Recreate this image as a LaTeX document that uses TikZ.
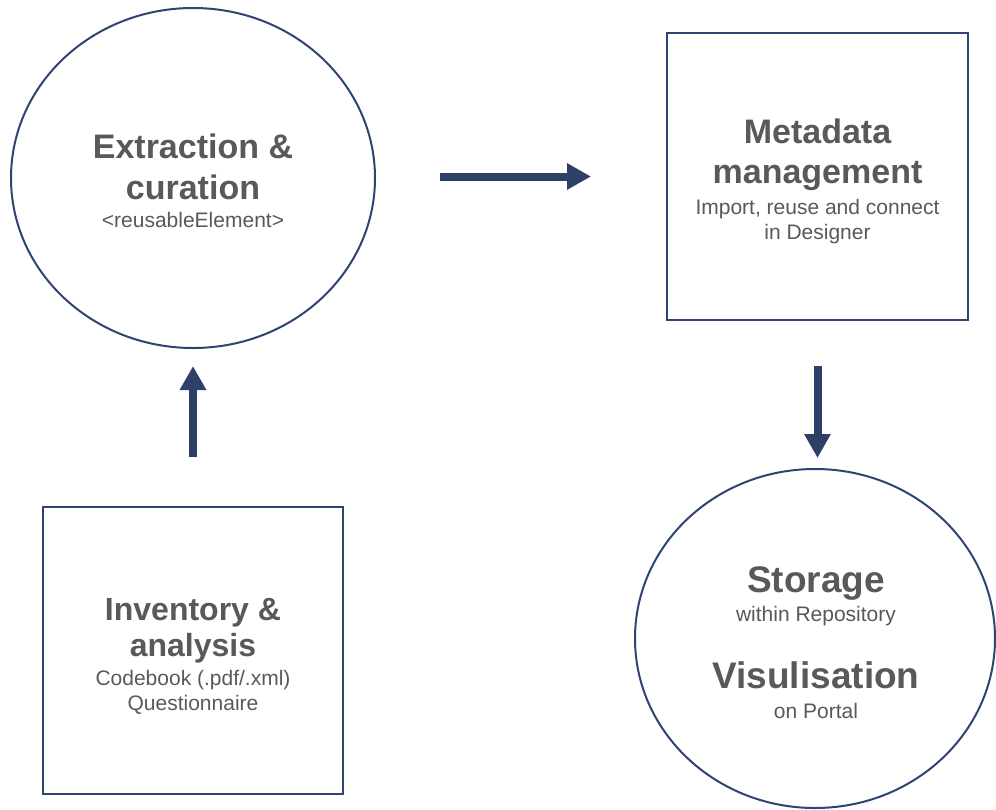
\documentclass[tikz,border=0pt]{standalone}
\usepackage{fontspec}
\setmainfont{Liberation Sans}
\usetikzlibrary{shapes.geometric,arrows.meta}
\definecolor{navy}{HTML}{2F4470}
\definecolor{arrownavy}{HTML}{2E4068}
\definecolor{txtgray}{HTML}{595959}
\begin{document}
\begin{tikzpicture}[x=1pt,y=-1pt,
  circ/.style={ellipse,draw=navy,line width=2pt,inner sep=0pt,fill=white},
  boxnode/.style={rectangle,draw=navy,line width=2pt,inner sep=0pt,fill=white},
  bigtxt/.style={anchor=base,inner sep=0pt,text=txtgray,font=\fontsize{34}{40}\selectfont\bfseries},
  hugetxt/.style={anchor=base,inner sep=0pt,text=txtgray,font=\fontsize{37}{44}\selectfont\bfseries},
  midtxt/.style={anchor=base,inner sep=0pt,text=txtgray,font=\fontsize{32}{38}\selectfont\bfseries},
  smalltxt/.style={anchor=base,inner sep=0pt,text=txtgray,font=\fontsize{21}{25}\selectfont},
  flow/.style={draw=arrownavy,line width=8pt,-{Triangle[width=25pt,length=24pt]}}
]
\useasboundingbox (0,0) rectangle (996,809);
% shapes
\node[circ,minimum width=364pt,minimum height=340pt] (c1) at (193,178) {};
\node[boxnode,minimum width=301pt,minimum height=287pt] (r1) at (817.5,176.5) {};
\node[boxnode,minimum width=300pt,minimum height=287pt] (r2) at (193,650.5) {};
\node[circ,minimum width=360pt,minimum height=339pt] (c2) at (815,638.5) {};
% texts
\node[bigtxt] (t1) at (193,158) {Extraction \&};
\node[bigtxt] (t2) at (193,199) {curation};
\node[smalltxt] (t3) at (193,227) {<reusableElement>};
\node[bigtxt] (t4) at (817.5,143) {Metadata};
\node[bigtxt] (t5) at (817.5,183) {management};
\node[smalltxt] (t6) at (817.5,214) {Import, reuse and connect};
\node[smalltxt] (t7) at (817.5,239) {in Designer};
\node[midtxt] (t8) at (193,620) {Inventory \&};
\node[midtxt] (t9) at (193,656) {analysis};
\node[smalltxt] (t10) at (193,685) {Codebook (.pdf/.xml)};
\node[smalltxt] (t11) at (193,710) {Questionnaire};
\node[hugetxt] (t12) at (816,592) {Storage};
\node[smalltxt] (t13) at (816,621) {within Repository};
\node[hugetxt] (t14) at (816,688) {Visulisation};
\node[smalltxt] (t15) at (816,718) {on Portal};
% connectors
\draw[flow,shorten <=64pt,shorten >=75pt] (c1.east |- r1.west) -- (r1.west);
\draw[flow,shorten <=45pt,shorten >=10pt] (r1.south) -- (r1.south |- c2.north);
\draw[flow,shorten <=49pt,shorten >=17pt] (r2.north) -- (r2.north |- c1.south);
\end{tikzpicture}
\end{document}
